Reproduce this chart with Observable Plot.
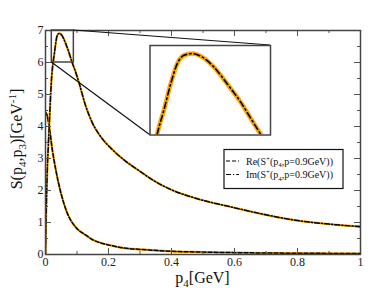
<!DOCTYPE html>
<html><head><meta charset="utf-8">
<script src="https://cdn.jsdelivr.net/npm/d3@7"></script>
<script src="https://cdn.jsdelivr.net/npm/@observablehq/plot@0.6"></script>
<style>
body{margin:0;background:#fff;}
#chart{width:388px;height:300px;}
</style></head><body><div id="chart"></div>
<script>
// Re(S+(p4, p=0.9GeV))
const reX = [0, 0.005, 0.012, 0.022, 0.033, 0.049, 0.07, 0.096, 0.127, 0.15, 0.176, 0.2, 0.25, 0.3, 0.4, 0.5, 0.6, 0.7, 0.8, 0.9, 1.0];
const reY = [4.45, 4.35, 3.98, 3.25, 2.63, 1.92, 1.27, 0.85, 0.61, 0.46, 0.36, 0.3, 0.2, 0.16, 0.10, 0.075, 0.058, 0.047, 0.04, 0.034, 0.03];
// Im(S+(p4, p=0.9GeV))
const imX = [0, 0.002, 0.004, 0.006, 0.009, 0.012, 0.015, 0.018, 0.021, 0.0243, 0.0281, 0.032, 0.0359, 0.0397, 0.0446, 0.0504, 0.0571, 0.0649, 0.0726, 0.0784, 0.0836, 0.095, 0.106, 0.127, 0.148, 0.18, 0.21, 0.25, 0.30, 0.34, 0.40, 0.476, 0.6, 0.7, 0.8, 0.9, 1.0];
const imY = [0, 1.2, 2.05, 2.73, 3.4, 4.05, 4.72, 5.3, 5.72, 6.02, 6.28, 6.57, 6.80, 6.89, 6.91, 6.87, 6.76, 6.57, 6.37, 6.19, 6.03, 5.72, 5.38, 4.66, 4.13, 3.62, 3.3, 2.95, 2.6, 2.33, 2.02, 1.76, 1.46, 1.24, 1.06, 0.95, 0.87];
// axes
const xMajor = [0, 0.2, 0.4, 0.6, 0.8, 1];
const xMinor = [0.1, 0.3, 0.5, 0.7, 0.9];
const yMajor = [0, 1, 2, 3, 4, 5, 6, 7];
const yMinor = [0.5, 1.5, 2.5, 3.5, 4.5, 5.5, 6.5];
const xDomain = [0, 1];
const yDomain = [0, 7];
// zoom region
const zoomX = [0.02, 0.09];
const zoomY = [6, 7];
const seriesNames = ["Re", "Im"];

const reData = reX.map((x, i) => ({x, y: reY[i]}));
const imData = imX.map((x, i) => ({x, y: imY[i]}));

const W = 388, H = 300, mL = 45, mR = 28, mT = 30, mB = 46;
const innerW = W - mL - mR, innerH = H - mT - mB;
const FONT = "Liberation Serif";
const ORANGE = "#ffa500";
const DASH_RE = "4,2", DASH_IM = "5,2,1.2,2";

const curvePair = (data, dash, ow, bw) => [
  Plot.line(data, {x: "x", y: "y", stroke: ORANGE, strokeWidth: ow, curve: "monotone-x", clip: true}),
  Plot.line(data, {x: "x", y: "y", stroke: "#000", strokeWidth: bw, strokeDasharray: dash, curve: "monotone-x", clip: true})
];

const main = Plot.plot({
  width: W, height: H, marginLeft: mL, marginRight: mR, marginTop: mT, marginBottom: mB,
  x: {domain: xDomain, axis: null},
  y: {domain: yDomain, axis: null},
  style: {fontFamily: FONT, background: "white", color: "black"},
  marks: [
    ...curvePair(reData, DASH_RE, 2.2, 1.5),
    ...curvePair(imData, DASH_IM, 2.2, 1.5),
    Plot.rect([{}], {x1: zoomX[0], x2: zoomX[1], y1: zoomY[0], y2: zoomY[1], fill: "none", stroke: "#444", strokeWidth: 1.5}),
    Plot.ruleX(xMajor, {x: d => d, insetTop: innerH - 6, stroke: "#555"}),
    Plot.ruleX(xMajor, {x: d => d, insetBottom: innerH - 6, stroke: "#555"}),
    Plot.ruleX(xMinor, {x: d => d, insetTop: innerH - 3, stroke: "#555"}),
    Plot.ruleX(xMinor, {x: d => d, insetBottom: innerH - 3, stroke: "#555"}),
    Plot.ruleY(yMajor, {y: d => d, insetRight: innerW - 6, stroke: "#555"}),
    Plot.ruleY(yMajor, {y: d => d, insetLeft: innerW - 6, stroke: "#555"}),
    Plot.ruleY(yMinor, {y: d => d, insetRight: innerW - 3, stroke: "#555"}),
    Plot.ruleY(yMinor, {y: d => d, insetLeft: innerW - 3, stroke: "#555"}),
    Plot.frame({stroke: "#444", strokeWidth: 1.5}),
    Plot.axisX(xMajor, {tickSize: 0, tickPadding: 3, tickFormat: d => String(d), fontSize: 12, label: null, fill: "#222"}),
    Plot.axisY(yMajor, {tickSize: 0, tickPadding: 2, tickFormat: d => String(d), fontSize: 12, label: null, fill: "#222"})
  ]
});

// inset
const insetX = 149.5, insetY = 45, insetW = 120.5, insetH = 89.5;
const inset = Plot.plot({
  width: insetW, height: insetH, margin: 0,
  x: {domain: zoomX, axis: null},
  y: {domain: zoomY, axis: null},
  marks: [
    ...curvePair(imData, "6,3,1.5,3", 4.5, 1.6),
    Plot.frame({stroke: "#444", strokeWidth: 1.5})
  ]
});

const svg = d3.select(main);
const sx = main.scale("x"), sy = main.scale("y");
// connector lines
const conn = [
  [sx.apply(zoomX[1]), sy.apply(zoomY[1]), insetX + insetW, insetY],
  [sx.apply(zoomX[0]), sy.apply(zoomY[0]), insetX, insetY + insetH]
];
svg.append("g").selectAll("line").data(conn).join("line")
  .attr("x1", d => d[0]).attr("y1", d => d[1]).attr("x2", d => d[2]).attr("y2", d => d[3])
  .attr("stroke", "#111").attr("stroke-width", 1.2);

const g = svg.append("g").attr("transform", `translate(${insetX},${insetY})`);
g.append("rect").attr("width", insetW).attr("height", insetH).attr("fill", "white");
while (inset.firstChild) g.node().appendChild(inset.firstChild);

// axis labels
const xl = svg.append("text").attr("x", mL + innerW / 2).attr("y", 283)
  .attr("text-anchor", "middle").attr("font-family", FONT).attr("font-size", 16).attr("fill", "#111");
xl.append("tspan").text("p");
xl.append("tspan").attr("dy", 4).attr("font-size", 11).text("4");
xl.append("tspan").attr("dy", -4).text("[GeV]");

const yl = svg.append("text").attr("transform", `translate(22,${mT + innerH / 2 - 3}) rotate(-90)`)
  .attr("text-anchor", "middle").attr("font-family", FONT).attr("font-size", 16).attr("fill", "#111");
yl.append("tspan").text("S(p");
yl.append("tspan").attr("dy", 4).attr("font-size", 11).text("4");
yl.append("tspan").attr("dy", -4).text(",p");
yl.append("tspan").attr("dy", 4).attr("font-size", 11).text("3");
yl.append("tspan").attr("dy", -4).text(")[GeV");
yl.append("tspan").attr("dy", -6).attr("font-size", 11).text("-1");
yl.append("tspan").attr("dy", 6).text("]");

// legend
const lg = svg.append("g").attr("font-family", FONT).attr("font-size", 10).attr("fill", "#111")
  .attr("text-anchor", "start");
lg.append("rect").attr("x", 224).attr("y", 149.5).attr("width", 119).attr("height", 39)
  .attr("fill", "white").attr("stroke", "#111").attr("stroke-width", 1.2);
const dashes = [DASH_RE, DASH_IM];
seriesNames.forEach((name, i) => {
  const yy = 161 + i * 13.5;
  lg.append("line").attr("x1", 226).attr("x2", 239).attr("y1", yy).attr("y2", yy)
    .attr("stroke", "#000").attr("stroke-width", 1.2).attr("stroke-dasharray", dashes[i]);
  const t = lg.append("text").attr("x", 246).attr("y", yy + 3.5).attr("text-anchor", "start");
  t.append("tspan").text(name + "(S");
  t.append("tspan").attr("dy", -4).attr("font-size", 7).text("+");
  t.append("tspan").attr("dy", 4).text("(p");
  t.append("tspan").attr("dy", 2.5).attr("font-size", 7).text("4");
  t.append("tspan").attr("dy", -2.5).text(",p=0.9GeV))");
});

document.getElementById("chart").appendChild(main);
</script>
</body></html>
